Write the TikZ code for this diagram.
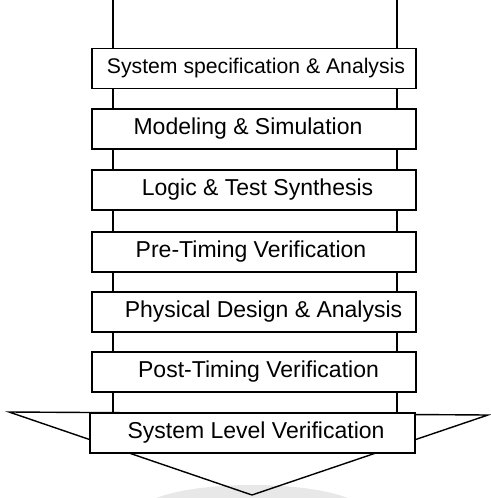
\documentclass[tikz,border=0pt]{standalone}
\usepackage{fontspec}
\setmainfont{Liberation Sans}
\begin{document}
\begin{tikzpicture}[x=1pt,y=-1pt,
  stagebox/.style={draw=black, line width=1.4pt, fill=white, minimum width=324pt, minimum height=40pt, inner sep=0pt, font=\fontsize{23}{27}\selectfont, text=black},
  link/.style={draw=black, line width=1.4pt}]
\useasboundingbox (0,0) rectangle (490,498);
% shadow under the arrow
\fill[black!9] (252,512) ellipse [x radius=112pt, y radius=27pt];
% big arrow
\coordinate (tl) at (9,412);
\coordinate (tr) at (488,415);
\coordinate (tb) at (252,495);
\draw[line width=1.4pt, line join=miter] (tl) -- (tr) -- (tb) -- cycle;
% stage boxes
\node[stagebox, font=\fontsize{21.2}{25}\selectfont] (b1) at (254,68.5) {\hspace*{4pt}System specification \& Analysis};
\node[stagebox] (b2) at (254,129) {Modeling \& Simulation\hspace*{12pt}};
\node[stagebox] (b3) at (254,190) {\hspace*{7pt}Logic \& Test Synthesis};
\node[stagebox] (b4) at (254,252) {Pre-Timing Verification\hspace*{6pt}};
\node[stagebox] (b5) at (254,312) {\hspace*{19pt}Physical Design \& Analysis};
\node[stagebox] (b6) at (254,372) {\hspace*{9pt}Post-Timing Verification};
\node[stagebox, minimum width=325pt] (b7) at (252.5,433) {\hspace*{7pt}System Level Verification};
% rails
\coordinate (L) at (113,0);
\coordinate (R) at (397,0);
\draw[link] (L) -- (L |- b1.north);
\draw[link] (R) -- (R |- b1.north);
\foreach \a/\b in {b1/b2,b2/b3,b3/b4,b4/b5,b5/b6,b6/b7}{
  \draw[link] (\a.south -| L) -- (\b.north -| L);
  \draw[link] (\a.south -| R) -- (\b.north -| R);
}
\end{tikzpicture}
\end{document}
